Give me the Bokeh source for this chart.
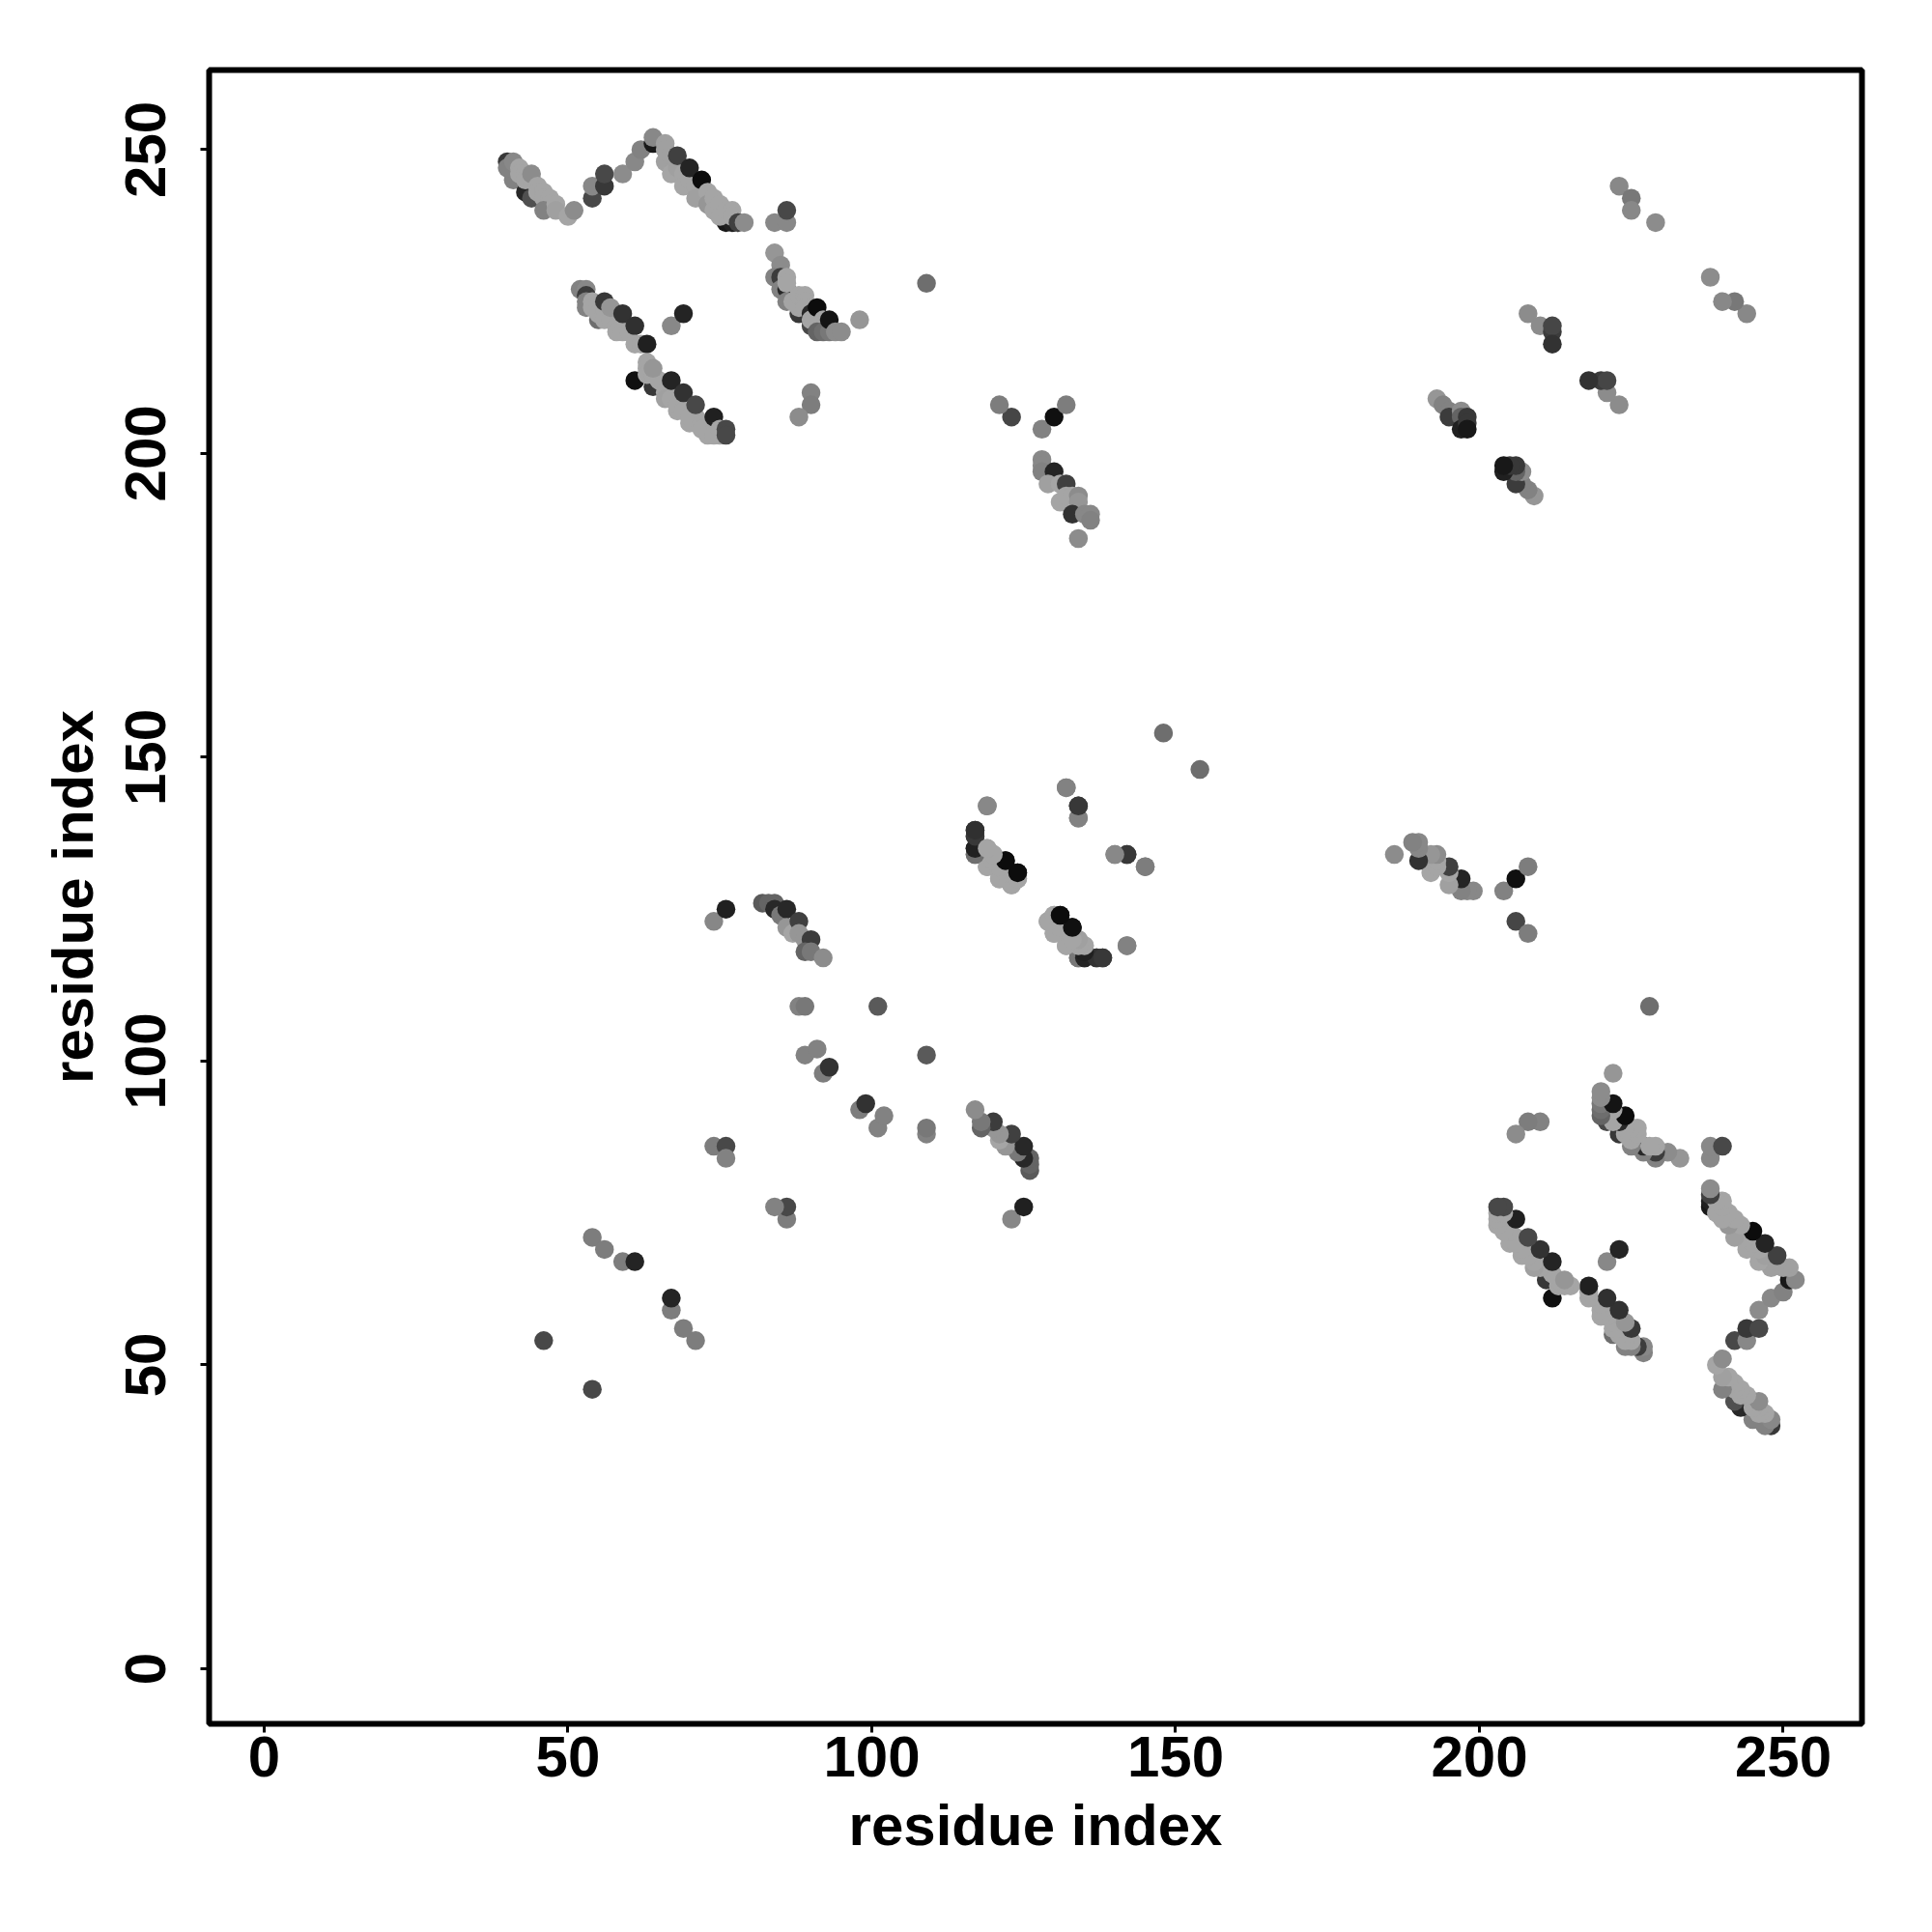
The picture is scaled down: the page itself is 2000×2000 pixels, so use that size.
from bokeh.plotting import figure
from bokeh.models import Range1d, FixedTicker, ColumnDataSource
from bokeh.embed import file_html
from bokeh.resources import INLINE

tick_values = [0, 50, 100, 150, 200, 250]
axis_title = "residue index"

# contacts (residue i, residue j, grey level); each is drawn on both sides of the diagonal
strand_a_i = [40,41,40,41,43,44,76,77,42,42,43,43,44,44,45,45,46,46,47,47,46,48,48,50,51]
strand_a_j = [248,245,247,248,243,242,238,238,247,246,246,245,245,246,244,243,243,242,242,241,240,241,240,239,240]
strand_a_g = [56,130,130,136,40,80,24,32,165,165,165,165,165,140,165,165,165,165,165,165,130,165,160,165,140]

strand_b_i = [54,54,56,56,59,61,62,64,64,66,66,66,67,67,68,69,69,70,71,71,68,70,72,73,73,74,74,75,75,76,77,77,78,79,84,86,86]
strand_b_j = [242,244,244,246,246,248,250,251,252,251,250,248,249,246,247,246,244,245,244,242,249,247,245,243,241,242,240,241,239,240,240,239,238,238,238,238,240]
strand_b_g = [72,136,56,72,140,136,130,24,136,160,160,160,160,165,160,165,165,165,165,160,64,36,12,165,150,165,165,165,165,165,165,165,64,140,136,136,72]

strand_c_i = [84,85,84,85,85,86,86,86,86,88,90,91,88,87,88,89,89,89,90,90,91,92,91,92,93,93,94,95,98,109]
strand_c_j = [233,231,229,229,227,227,225,229,228,223,221,221,224,225,226,226,225,224,223,222,224,222,220,220,220,222,220,220,222,228]
strand_c_g = [150,140,130,60,130,40,130,165,165,56,72,56,165,165,165,165,165,165,40,165,12,165,100,110,120,20,140,140,150,110]

strand_d_i = [52,53,53,53,53,55,54,54,55,55,56,56,57,58,56,57,59,58,59,60,59,61,61,62,63,67,69]
strand_d_j = [227,227,226,225,224,222,225,224,224,223,223,222,222,221,225,224,221,220,220,220,223,221,218,218,218,221,223]
strand_d_g = [130,136,60,130,130,110,165,165,165,165,165,165,165,165,56,150,165,165,165,165,50,48,165,165,32,136,36]

strand_e_i = [61,64,63,63,63,64,65,64,66,66,67,67,68,68,69,69,70,71,70,71,72,72,73,74,74,75,75,76,76,90,90,88]
strand_e_j = [212,211,215,214,213,213,212,214,210,209,209,212,207,208,207,210,205,206,206,208,205,204,203,203,206,203,204,204,203,210,208,206]
strand_e_g = [16,56,165,165,165,165,165,150,165,160,165,36,165,165,165,50,165,165,165,72,165,165,165,165,32,165,165,72,72,130,125,140]

strand_f_i = [223,225,225,229,208,210,212,212,212,193,194,195,195,197,197,197,198,198,198]
strand_f_j = [244,242,240,238,223,221,220,221,218,209,208,207,206,207,206,204,206,205,204]
strand_f_g = [136,120,136,140,140,140,60,70,50,150,130,130,60,140,100,32,56,56,24]

strand_g_i = [128,128,128,130,129,131,131,132,132,133,134,134,133,135,136,136,134,123,121,128,130,132]
strand_g_j = [199,198,197,197,195,195,192,195,193,193,193,192,190,190,190,189,186,206,208,204,206,208]
strand_g_g = [136,136,130,36,160,165,165,64,165,165,140,150,50,136,136,130,140,70,125,130,16,125]

strand_h_i = [117,117,117,117,118,119,119,120,119,120,121,122,122,123,124,124,132,134,134,148,119,140,142,145]
strand_h_j = [134,135,137,138,135,135,134,134,132,133,130,131,133,129,130,131,145,142,140,154,142,134,134,132]
strand_h_g = [120,36,50,56,32,165,165,160,165,165,165,165,16,165,165,12,125,56,136,110,130,130,56,130]

strand_k_i = [129,130,130,131,131,132,132,133,134,135,137,138,133,134,135,142]
strand_k_j = [123,124,121,122,124,119,121,120,117,117,117,117,122,120,119,119]
strand_k_g = [165,165,165,165,12,165,165,165,110,32,56,48,12,165,165,136]

strand_m_i = [74,76,82,83,84,84,85,86,86,87,88,88,89,90,89,90,92]
strand_m_j = [123,125,126,126,126,125,124,125,122,121,123,121,120,120,118,118,117]
strand_m_g = [135,32,90,100,100,40,120,40,150,165,64,150,150,60,100,120,140]

loose_i = [88,89,101,89,91,92,93,74,76,76,46,54,56,59,61]
loose_j = [109,109,109,101,102,98,99,86,86,84,54,71,69,67,67]
loose_g = [130,120,90,130,130,125,50,125,72,130,72,125,125,125,36]

res_i = strand_a_i + strand_b_i + strand_c_i + strand_d_i + strand_e_i + strand_f_i + strand_g_i + strand_h_i + strand_k_i + strand_m_i + loose_i
res_j = strand_a_j + strand_b_j + strand_c_j + strand_d_j + strand_e_j + strand_f_j + strand_g_j + strand_h_j + strand_k_j + strand_m_j + loose_j
res_g = strand_a_g + strand_b_g + strand_c_g + strand_d_g + strand_e_g + strand_f_g + strand_g_g + strand_h_g + strand_k_g + strand_m_g + loose_g
assert len(res_i) == len(res_j) == len(res_g)

colors = ["#%02x%02x%02x" % (g, g, g) for g in res_g]
src = ColumnDataSource(dict(x=res_i + res_j, y=res_j + res_i, c=colors + colors))

FONT = "Liberation Sans"
p = figure(frame_width=1711, frame_height=1712, output_backend="svg", toolbar_location=None,
           x_range=Range1d(-9.06, 262.96), y_range=Range1d(-9.06, 263.1),
           min_border_left=216, min_border_right=65, min_border_top=72, min_border_bottom=150,
           background_fill_color="white", border_fill_color="white")
p.scatter("x", "y", source=src, size=19.5, fill_color="c", line_color=None, marker="circle")

p.grid.visible = False
p.outline_line_color = "black"
p.outline_line_width = 6
for ax in (p.xaxis[0], p.yaxis[0]):
    ax.ticker = FixedTicker(ticks=tick_values)
    ax.axis_label = axis_title
    ax.axis_line_color = None
    ax.major_tick_line_color = "black"
    ax.major_tick_line_width = 3
    ax.major_tick_in = 0
    ax.major_tick_out = 9
    ax.minor_tick_line_color = None
    ax.major_label_text_font = FONT
    ax.major_label_text_font_style = "bold"
    ax.major_label_text_font_size = "60px"
    ax.major_label_text_color = "black"
    ax.axis_label_text_font = FONT
    ax.axis_label_text_font_style = "bold"
    ax.axis_label_text_font_size = "60px"
    ax.axis_label_text_color = "black"
p.xaxis[0].major_label_standoff = 4
p.xaxis[0].axis_label_standoff = 14
p.yaxis[0].major_label_orientation = "parallel"
p.yaxis[0].major_label_standoff = 36
p.yaxis[0].axis_label_standoff = 19

open("out.html", "w").write(file_html(p, INLINE))
